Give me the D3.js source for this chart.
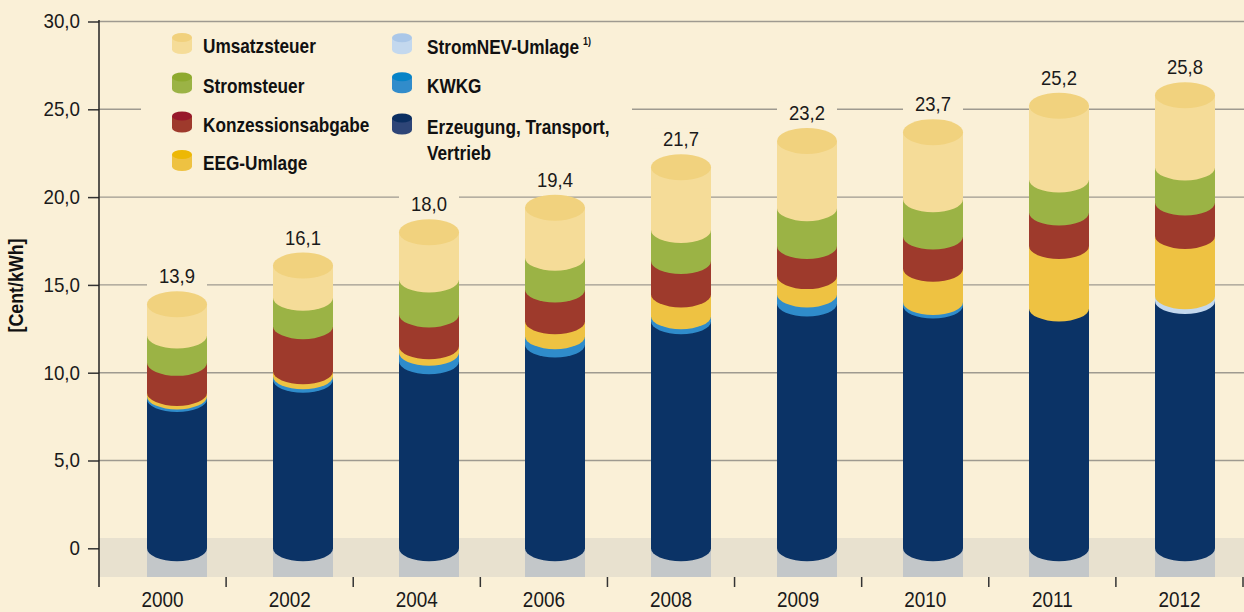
<!DOCTYPE html>
<html>
<head>
<meta charset="utf-8">
<script src="https://cdn.jsdelivr.net/npm/d3@7"></script>
<style>
  html, body { margin: 0; padding: 0; background: #FAF0D7; }
  svg { display: block; }
  .num { font-family: "Liberation Sans", Arial, sans-serif; fill: #1a1a1a; }
  .lbl { font-family: "Liberation Sans", Arial, sans-serif; font-weight: bold; font-size: 21px; fill: #111; }
</style>
</head>
<body>
<div class="chart"></div>
<script>
const years = ['2000', '2002', '2004', '2006', '2008', '2009', '2010', '2011', '2012'];
const totals = [13.9, 16.1, 18.0, 19.4, 21.7, 23.2, 23.7, 25.2, 25.8];

// components in cent/kWh, bottom to top
const erzeugung = [8.50, 9.60, 10.65, 11.60, 12.93, 13.94, 13.83, 13.66, 14.08];
const kwkg      = [0.15, 0.20, 0.48, 0.48, 0.29, 0.52, 0.19, 0.00, 0.00];
const stromNev  = [0.00, 0.00, 0.00, 0.00, 0.00, 0.00, 0.00, 0.00, 0.28];
const eeg       = [0.20, 0.28, 0.38, 0.85, 1.24, 1.04, 1.90, 3.55, 3.43];
const konzession= [1.71, 2.57, 1.81, 1.81, 1.90, 1.71, 1.83, 1.91, 1.90];
const stromsteuer=[1.56, 1.62, 1.99, 1.81, 1.77, 2.16, 2.13, 1.88, 2.00];
const umsatzsteuer=[1.78, 1.83, 2.69, 2.85, 3.57, 3.83, 3.82, 4.20, 4.11];

const yTicks = [0, 5, 10, 15, 20, 25, 30];

const keys = ['erzeugung', 'kwkg', 'stromNev', 'eeg', 'konzession', 'stromsteuer', 'umsatzsteuer'];
const sideColor = {
  erzeugung: '#0B3366', kwkg: '#2F8CCB', stromNev: '#C3D8EE', eeg: '#EEC242',
  konzession: '#9E3A2C', stromsteuer: '#9BB345', umsatzsteuer: '#F5DC98'
};

// legend: [key, label, column, row]
const legendItems = [
  ['umsatzsteuer', 'Umsatzsteuer', 0, 0],
  ['stromsteuer', 'Stromsteuer', 0, 1],
  ['konzession', 'Konzessionsabgabe', 0, 2],
  ['eeg', 'EEG-Umlage', 0, 3],
  ['stromNev', 'StromNEV-Umlage', 1, 0],
  ['kwkg', 'KWKG', 1, 1],
  ['erzeugung', 'Erzeugung, Transport,|Vertrieb', 1, 2]
];
const legendTop = {
  umsatzsteuer: '#F1D17D', stromsteuer: '#8EAA2E', konzession: '#97182A', eeg: '#EDB805',
  stromNev: '#AAC7E8', kwkg: '#0683C7', erzeugung: '#0B2E60'
};
const legendBody = {
  umsatzsteuer: '#F5DC98', stromsteuer: '#9BB345', konzession: '#9E3A2C', eeg: '#EEC242',
  stromNev: '#C3D8EE', kwkg: '#318CCB', erzeugung: '#2E4577'
};

const W = 1244, H = 612;
const bg = '#FAF0D7';
const axisX = 99;
const narrow = 0.82;   // no condensed font installed, squeeze instead

const data = years.map((yr, i) => ({
  year: yr, total: totals[i],
  erzeugung: erzeugung[i], kwkg: kwkg[i], stromNev: stromNev[i], eeg: eeg[i],
  konzession: konzession[i], stromsteuer: stromsteuer[i], umsatzsteuer: umsatzsteuer[i]
}));
const stacked = d3.stack().keys(keys)(data);

const svg = d3.select('.chart').append('svg')
  .attr('width', W).attr('height', H);

svg.append('rect').attr('width', W).attr('height', H).attr('fill', bg);

const y = d3.scaleLinear().domain([0, 30]).range([548.3, 21.5]);
const x = d3.scaleBand().domain(years).range([axisX, 1243]).padding(0);
// bars sit a little right of the label slots in the original
const xBar = d3.scaleBand().domain(years).range([114, 1248]).padding(0);
const barW = 60, rx = barW / 2, ry = 13;
const cx = d => xBar(d) + xBar.bandwidth() / 2;
const fmt = v => v === 0 ? '0' : d3.format('.1f')(v).replace('.', ',');

// grey floor band
svg.append('rect')
  .attr('x', axisX).attr('y', 538).attr('width', W - axisX).attr('height', 39)
  .attr('fill', '#E8E1CF');

// gridlines
svg.append('g').selectAll('line')
  .data(yTicks.filter(t => t > 0))
  .enter().append('line')
  .attr('x1', axisX).attr('x2', W)
  .attr('y1', d => y(d)).attr('y2', d => y(d))
  .attr('stroke', '#9E9A90').attr('stroke-width', 1.4);

// legend backing (cuts the 25,0 line)
svg.append('rect')
  .attr('x', 141).attr('y', 24).attr('width', 491).attr('height', 160)
  .attr('fill', bg);

// y axis
const yAxis = d3.axisLeft(y)
  .tickValues(yTicks)
  .tickSize(11)
  .tickFormat(fmt);
const gy = svg.append('g')
  .attr('transform', 'translate(' + axisX + ',0)')
  .call(yAxis);
gy.select('.domain').remove();
gy.selectAll('.tick line').attr('stroke', '#333').attr('stroke-width', 1.5);
gy.selectAll('.tick text')
  .attr('class', 'num')
  .attr('font-family', null)
  .attr('font-size', 20)
  .attr('x', null)
  .attr('transform', 'translate(-19,0) scale(0.94,1)');
svg.append('line')
  .attr('x1', axisX).attr('x2', axisX).attr('y1', 20).attr('y2', 587)
  .attr('stroke', '#222').attr('stroke-width', 1.5);

// x axis ticks at band edges
const edges = years.map(d => x(d)).concat([x.range()[1]]);
svg.append('g').selectAll('line')
  .data(edges.slice(1))
  .enter().append('line')
  .attr('x1', d => d).attr('x2', d => d)
  .attr('y1', 577).attr('y2', 587)
  .attr('stroke', '#333').attr('stroke-width', 1.5);

svg.append('g').selectAll('text')
  .data(years)
  .enter().append('text')
  .attr('class', 'num')
  .attr('font-size', 22)
  .attr('transform', d => 'translate(' + (x(d) + x.bandwidth() / 2) + ',607) scale(0.86,1)')
  .attr('text-anchor', 'middle')
  .text(d => d);

// bar shadows in floor band
svg.append('g').selectAll('rect')
  .data(years)
  .enter().append('rect')
  .attr('x', d => cx(d) - rx).attr('y', 538)
  .attr('width', barW).attr('height', 39)
  .attr('fill', '#C3C7C9');

// cylinder segments
function segPath(xc, v0, v1) {
  const l = xc - rx, r = xc + rx, Y0 = y(v0), Y1 = y(v1);
  return 'M' + l + ',' + Y1 + 'L' + l + ',' + Y0 +
    'A' + rx + ',' + ry + ' 0 0 0 ' + r + ',' + Y0 +
    'L' + r + ',' + Y1 + 'Z';
}

const bars = svg.append('g');
stacked.forEach(layer => {
  bars.append('g').selectAll('path')
    .data(layer.filter(s => s[1] - s[0] > 0.001))
    .enter().append('path')
    .attr('d', s => segPath(cx(s.data.year), s[0], s[1]))
    .attr('fill', sideColor[layer.key]);
});
bars.append('g').selectAll('ellipse')
  .data(data)
  .enter().append('ellipse')
  .attr('cx', d => cx(d.year)).attr('cy', d => y(d.total))
  .attr('rx', rx).attr('ry', ry)
  .attr('fill', '#F1D27E');

// value labels with a gap in the gridlines
const vl = svg.append('g');
vl.selectAll('rect')
  .data(data)
  .enter().append('rect')
  .attr('x', d => cx(d.year) - rx).attr('y', d => y(d.total) - ry - 8 - 18)
  .attr('width', barW).attr('height', 21)
  .attr('fill', bg);
vl.selectAll('text')
  .data(data)
  .enter().append('text')
  .attr('class', 'num')
  .attr('font-size', 21)
  .attr('transform', d => 'translate(' + cx(d.year) + ',' + (y(d.total) - ry - 8) + ') scale(0.88,1)')
  .attr('text-anchor', 'middle')
  .text(d => fmt(d.total));

// legend
const colX = [172, 392], textX = [203, 427];
const rowTop = [[33, 72.5, 111.5, 150], [33.3, 72.3, 113.5]];
const lg = svg.append('g');
legendItems.forEach(([key, label, c, r]) => {
  const t = rowTop[c][r], xc = colX[c] + 10;
  lg.append('path')
    .attr('d', 'M' + (xc - 10) + ',' + (t + 4.5) + 'L' + (xc - 10) + ',' + (t + 16.5) +
      'A10,4.5 0 0 0 ' + (xc + 10) + ',' + (t + 16.5) + 'L' + (xc + 10) + ',' + (t + 4.5) + 'Z')
    .attr('fill', legendBody[key]);
  lg.append('ellipse')
    .attr('cx', xc).attr('cy', t + 4.5).attr('rx', 10).attr('ry', 4.5)
    .attr('fill', legendTop[key]);
  const txt = lg.append('text').attr('class', 'lbl')
    .attr('transform', 'translate(' + textX[c] + ',' + (t + 20.3) + ') scale(' + narrow + ',1)');
  label.split('|').forEach((line, i) => {
    txt.append('tspan').attr('x', 0).attr('dy', i === 0 ? 0 : 26.7).text(line);
  });
  if (key === 'stromNev') {
    txt.append('tspan').attr('dx', 5).attr('dy', -9)
      .attr('font-size', 11).text('1)');
  }
});

// y axis title
svg.append('text')
  .attr('class', 'lbl')
  .attr('transform', 'translate(23,285.5) rotate(-90) scale(0.85,1)')
  .attr('text-anchor', 'middle')
  .text('[Cent/kWh]');
</script>
</body>
</html>
